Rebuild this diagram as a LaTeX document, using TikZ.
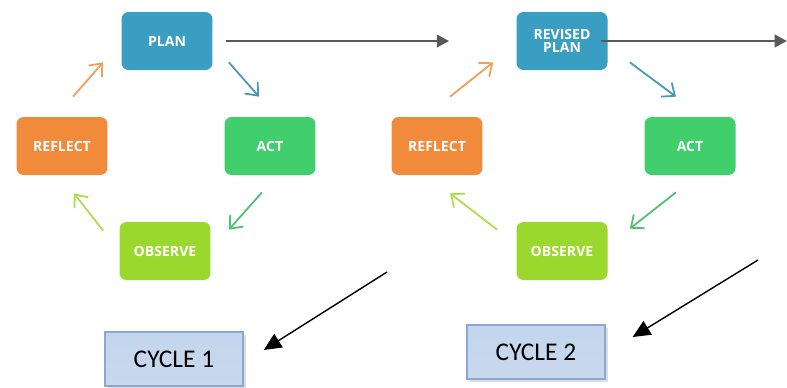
\documentclass[tikz,border=0pt]{standalone}
\usepackage{fontspec}
\setmainfont{Carlito}
\newfontfamily\boxfont{Open Sans}
\usepackage{tikz}
\usetikzlibrary{positioning,arrows.meta,shadows}

\definecolor{planblue}{HTML}{3A9DC2}
\definecolor{actgreen}{HTML}{40CF6C}
\definecolor{reflorange}{HTML}{F28A3C}
\definecolor{obslime}{HTML}{9BD82E}
\definecolor{cycleedge}{HTML}{8AA8D0}
\definecolor{cycletop}{HTML}{C3D6EE}
\definecolor{cyclemid}{HTML}{E3ECF7}
\definecolor{cyclebot}{HTML}{C9D8EC}

\tikzset{
  stage/.style={rounded corners=4pt, minimum width=1.82cm, minimum height=1.16cm,
    text=white, font=\boxfont\bfseries\fontsize{8}{9}\selectfont, align=center},
  cyclebox/.style={draw=cycleedge, line width=0.8pt, top color=cycletop,
    middle color=cyclemid, bottom color=cyclebot, minimum width=2.76cm,
    minimum height=1.08cm, font=\fontsize{14.5}{17}\selectfont,
    drop shadow={shadow xshift=1.5pt, shadow yshift=-1.5pt, fill=gray!55}},
  turn/.style={line width=1pt, -{Straight Barb[length=6pt,width=10pt]}},
  link/.style={line width=1.6pt, draw=gray!70!black, -{Triangle[length=7pt,width=7pt]}},
  pointer/.style={line width=0.8pt, -{Triangle[length=10pt,width=9pt]}}
}

\begin{document}
\begin{tikzpicture}[x=0.02cm,y=-0.02cm]
\useasboundingbox (0,0) rectangle (787,387);

% Cycle 1
\node[stage, fill=planblue] (plan1) at (167,41) {PLAN};
\node[stage, fill=actgreen] (act1) at (270,146) {ACT};
\node[stage, fill=obslime] (observe1) at (165,251) {OBSERVE};
\node[stage, fill=reflorange] (reflect1) at (62,146) {REFLECT};

\draw[turn, draw=planblue!80!gray] ([xshift=0.32cm,yshift=0.16cm]plan1.south east)
    -- ([xshift=-0.22cm,yshift=0.4cm]act1.north);
\draw[turn, draw=actgreen!80!gray] ([xshift=-0.16cm,yshift=-0.34cm]act1.south)
    -- ([xshift=0.36cm,yshift=-0.16cm]observe1.north east);
\draw[turn, draw=obslime!85!white] ([xshift=-0.32cm,yshift=-0.18cm]observe1.north west)
    -- ([xshift=0.24cm,yshift=-0.36cm]reflect1.south);
\draw[turn, draw=reflorange!85!white] ([xshift=0.22cm,yshift=0.4cm]reflect1.north)
    -- ([xshift=-0.36cm,yshift=0.16cm]plan1.south west);

% Cycle 2
\node[stage, fill=planblue] (plan2) at (562,41) {REVISED\\[-2pt]PLAN};
\node[stage, fill=actgreen] (act2) at (690,146) {ACT};
\node[stage, fill=obslime] (observe2) at (562,251) {OBSERVE};
\node[stage, fill=reflorange] (reflect2) at (437,146) {REFLECT};

\draw[turn, draw=planblue!80!gray] ([xshift=0.44cm,yshift=0.16cm]plan2.south east)
    -- ([xshift=-0.28cm,yshift=0.4cm]act2.north);
\draw[turn, draw=actgreen!80!gray] ([xshift=-0.28cm,yshift=-0.34cm]act2.south)
    -- ([xshift=0.44cm,yshift=-0.14cm]observe2.north east);
\draw[turn, draw=obslime!85!white] ([xshift=-0.38cm,yshift=-0.16cm]observe2.north west)
    -- ([xshift=0.26cm,yshift=-0.36cm]reflect2.south);
\draw[turn, draw=reflorange!85!white] ([xshift=0.26cm,yshift=0.4cm]reflect2.north)
    -- ([xshift=-0.46cm,yshift=0.16cm]plan2.south west);

% links between the cycles
\coordinate (end2) at (787,41);
\draw[link] (plan1.east) -- (plan2.west)
  [shorten <=0.26cm, shorten >=1.34cm];
\draw[link] ([xshift=-0.14cm]plan2.east) -- (end2);

% cycle labels
\node[cyclebox] (cycle1) at (174,359) {CYCLE 1};
\node[cyclebox] (cycle2) at (536,352) {CYCLE 2};

\coordinate (from1) at (387,272);
\coordinate (from2) at (758,260);
\draw[pointer] (from1) -- ([xshift=0.4cm,yshift=0.18cm]cycle1.east);
\draw[pointer] (from2) -- ([xshift=0.54cm,yshift=0.3cm]cycle2.east);
\end{tikzpicture}
\end{document}
